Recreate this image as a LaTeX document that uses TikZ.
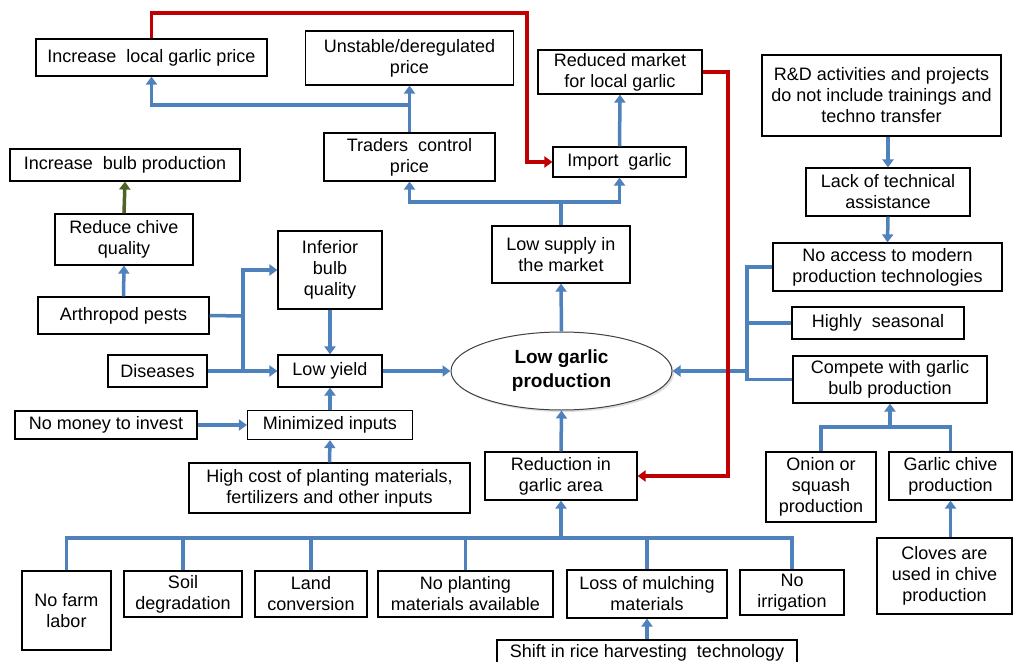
\documentclass[tikz,border=0pt]{standalone}
\usepackage{fontspec}
\setmainfont{Liberation Sans}
\usetikzlibrary{arrows.meta,shapes.geometric,shadows}
\definecolor{lnblue}{RGB}{79,129,189}
\definecolor{lnred}{RGB}{192,0,0}
\definecolor{lnolive}{RGB}{79,98,40}
\begin{document}
\begin{tikzpicture}[x=1pt,y=-1pt,
 box/.style={draw=black, line width=1.2pt, fill=white, inner sep=0pt, align=center, font=\fontsize{18}{21}\selectfont},
 bl/.style={draw=lnblue, line width=3.5pt},
 bla/.style={bl, -{Triangle[width=11pt,length=8pt]}},
 rda/.style={draw=lnred, line width=3.5pt, -{Triangle[width=11pt,length=8pt]}},
 ola/.style={draw=lnolive, line width=3.5pt, -{Triangle[width=11pt,length=8pt]}},
]
\fill[white] (0,0) rectangle (1019,661);
\useasboundingbox (0,0) rectangle (1019,661);

% top-left
\node[box, minimum width=231pt, minimum height=37pt] (incprice) at (151.5,57.5) {Increase\ \ local garlic price};
\node[box, minimum width=208pt, minimum height=54pt] (unstable) at (409.5,58) {Unstable/deregulated\\price};
\node[box, minimum width=171pt, minimum height=48pt] (traders) at (409.5,157) {Traders\ \ control\\price};
\node[box, minimum width=230pt, minimum height=32pt] (incbulb) at (125,165) {Increase\ \ bulb production};
\node[box, minimum width=164pt, minimum height=44pt] (reduced) at (620,72) {Reduced market\\for local garlic};
\node[box, minimum width=133pt, minimum height=30pt] (import) at (619.5,162) {Import\ \ garlic};
\node[box, minimum width=239pt, minimum height=81pt] (rd) at (881.5,95.5) {R\&D activities and projects\\do not include trainings and\\techno transfer};
\node[box, minimum width=164pt, minimum height=48pt] (lack) at (888,192) {Lack of technical\\assistance};
\node[box, minimum width=229pt, minimum height=48pt] (noaccess) at (887.5,267) {No access to modern\\production technologies};
\node[box, minimum width=172pt, minimum height=32pt] (seasonal) at (878,323) {Highly\ \ seasonal};
\node[box, minimum width=194pt, minimum height=47pt] (compete) at (890,379.5) {Compete with garlic\\bulb production};
\node[box, minimum width=110pt, minimum height=70pt] (onion) at (821,487) {Onion or\\squash\\production};
\node[box, minimum width=123pt, minimum height=48pt] (chive) at (950.5,476) {Garlic chive\\production};
\node[box, minimum width=135pt, minimum height=76pt] (cloves) at (944.5,576) {Cloves are\\used in chive\\production};
\node[box, minimum width=152pt, minimum height=48pt] (reduction) at (561,476) {Reduction in\\garlic area};
\node[box, minimum width=138pt, minimum height=57pt] (lowsupply) at (561,254.5) {Low supply in\\the market};
\node[draw=black!75, line width=1pt, ellipse, minimum width=221pt, minimum height=78pt, inner sep=0pt, fill=white, align=center, font=\bfseries\fontsize{19}{24}\selectfont, drop shadow={opacity=0.25, shadow xshift=2pt, shadow yshift=-2pt}] (ell) at (561.5,371) {Low garlic\\production};
\node[box, minimum width=104pt, minimum height=78pt] (inferior) at (330,270) {Inferior\\bulb\\quality};
\node[box, minimum width=138pt, minimum height=51pt] (reducechive) at (124,239.5) {Reduce chive\\quality};
\node[box, minimum width=171pt, minimum height=37pt] (arthropod) at (123.5,315.5) {Arthropod pests};
\node[box, minimum width=99pt, minimum height=32pt] (diseases) at (157.5,371) {Diseases};
\node[box, minimum width=104pt, minimum height=32pt] (lowyield) at (330,371) {Low yield};
\node[box, minimum width=182pt, minimum height=28pt] (nomoney) at (106,425) {No money to invest};
\node[box, minimum width=165pt, minimum height=29pt] (minimized) at (330,425) {Minimized inputs};
\node[box, minimum width=281pt, minimum height=50pt] (highcost) at (329.5,488) {High cost of planting materials,\\fertilizers and other inputs};
\node[box, minimum width=89pt, minimum height=79pt] (nofarm) at (66.5,610.5) {No farm\\labor};
\node[box, minimum width=118pt, minimum height=46pt] (soil) at (183,594) {Soil\\degradation};
\node[box, minimum width=112pt, minimum height=46pt] (land) at (311,594) {Land\\conversion};
\node[box, minimum width=175pt, minimum height=46pt] (noplanting) at (465.5,594) {No planting\\materials available};
\node[box, minimum width=160pt, minimum height=48pt] (loss) at (647,594) {Loss of mulching\\materials};
\node[box, minimum width=104pt, minimum height=45pt] (noirr) at (792,592.5) {No\\irrigation};
\node[box, minimum width=300pt, minimum height=26pt] (shift) at (647,653) {Shift in rice harvesting\ \ technology};

% junction coordinates
\coordinate (tj) at (561,538);
\coordinate (ts) at (561,202);
\coordinate (tt) at (409.5,105);
\coordinate (r1) at (151.5,13);
\coordinate (r2) at (527,13);
\coordinate (r3) at (728,72);
\coordinate (ja) at (243,316);
\coordinate (jb) at (243,371);
\coordinate (jr) at (747,371);
\coordinate (jc) at (890,427);

% bottom tree
\draw[bl] (nofarm.north) |- (tj) -| (noirr.north);
\draw[bl] (soil.north) -- (soil.north |- tj);
\draw[bl] (land.north) -- (land.north |- tj);
\draw[bl] (noplanting.north) -- (noplanting.north |- tj);
\draw[bl] (loss.north) -- (loss.north |- tj);
\draw[bla] (tj) -- (reduction.south);
\draw[bla] (shift.north) -- (loss.south);
\draw[bla] (reduction.north) -- (ell.south);

% centre upward
\draw[bla] (ell.north) -- (lowsupply.south);
\draw[bl] (lowsupply.north) -- (ts);
\draw[bla] (ts) -| (traders.south);
\draw[bla] (ts) -| (import.south);
\draw[bla] (import.north) -- (reduced.south);
\draw[bl] (traders.north) -- (tt);
\draw[bla] (tt) -| (incprice.south);
\draw[bla] (tt) -- (unstable.south);

% left side
\draw[bla] (arthropod.north) -- (reducechive.south);
\draw[ola] (reducechive.north) -- (incbulb.south);
\draw[bl] (arthropod.east) -- (ja);
\draw[bla] (jb) |- (inferior.west);
\draw[bla] (diseases.east) -- (lowyield.west);
\draw[bla] (inferior.south) -- (lowyield.north);
\draw[bla] (lowyield.east) -- (ell.west);
\draw[bla] (minimized.north) -- (lowyield.south);
\draw[bla] (nomoney.east) -- (minimized.west);
\draw[bla] (highcost.north) -- (minimized.south);

% right side
\draw[bla] (rd.south -| lack.north) -- (lack.north);
\draw[bla] (lack.south) -- (noaccess.north);
\draw[bl] (noaccess.west) -| (jr);
\draw[bl] (compete.west) -| (jr);
\draw[bl] (seasonal.west) -- (seasonal.west -| jr);
\draw[bla] (jr) -- (ell.east);
\draw[bl] (onion.north) |- (jc) -| (chive.north);
\draw[bla] (jc) -- (compete.south);
\draw[bla] (cloves.north -| chive.south) -- (chive.south);

% red feedback
\draw[rda] (incprice.north) -- (r1) -- (r2) |- (import.west);
\draw[rda] (reduced.east) -- (r3) |- (reduction.east);
\end{tikzpicture}
\end{document}
